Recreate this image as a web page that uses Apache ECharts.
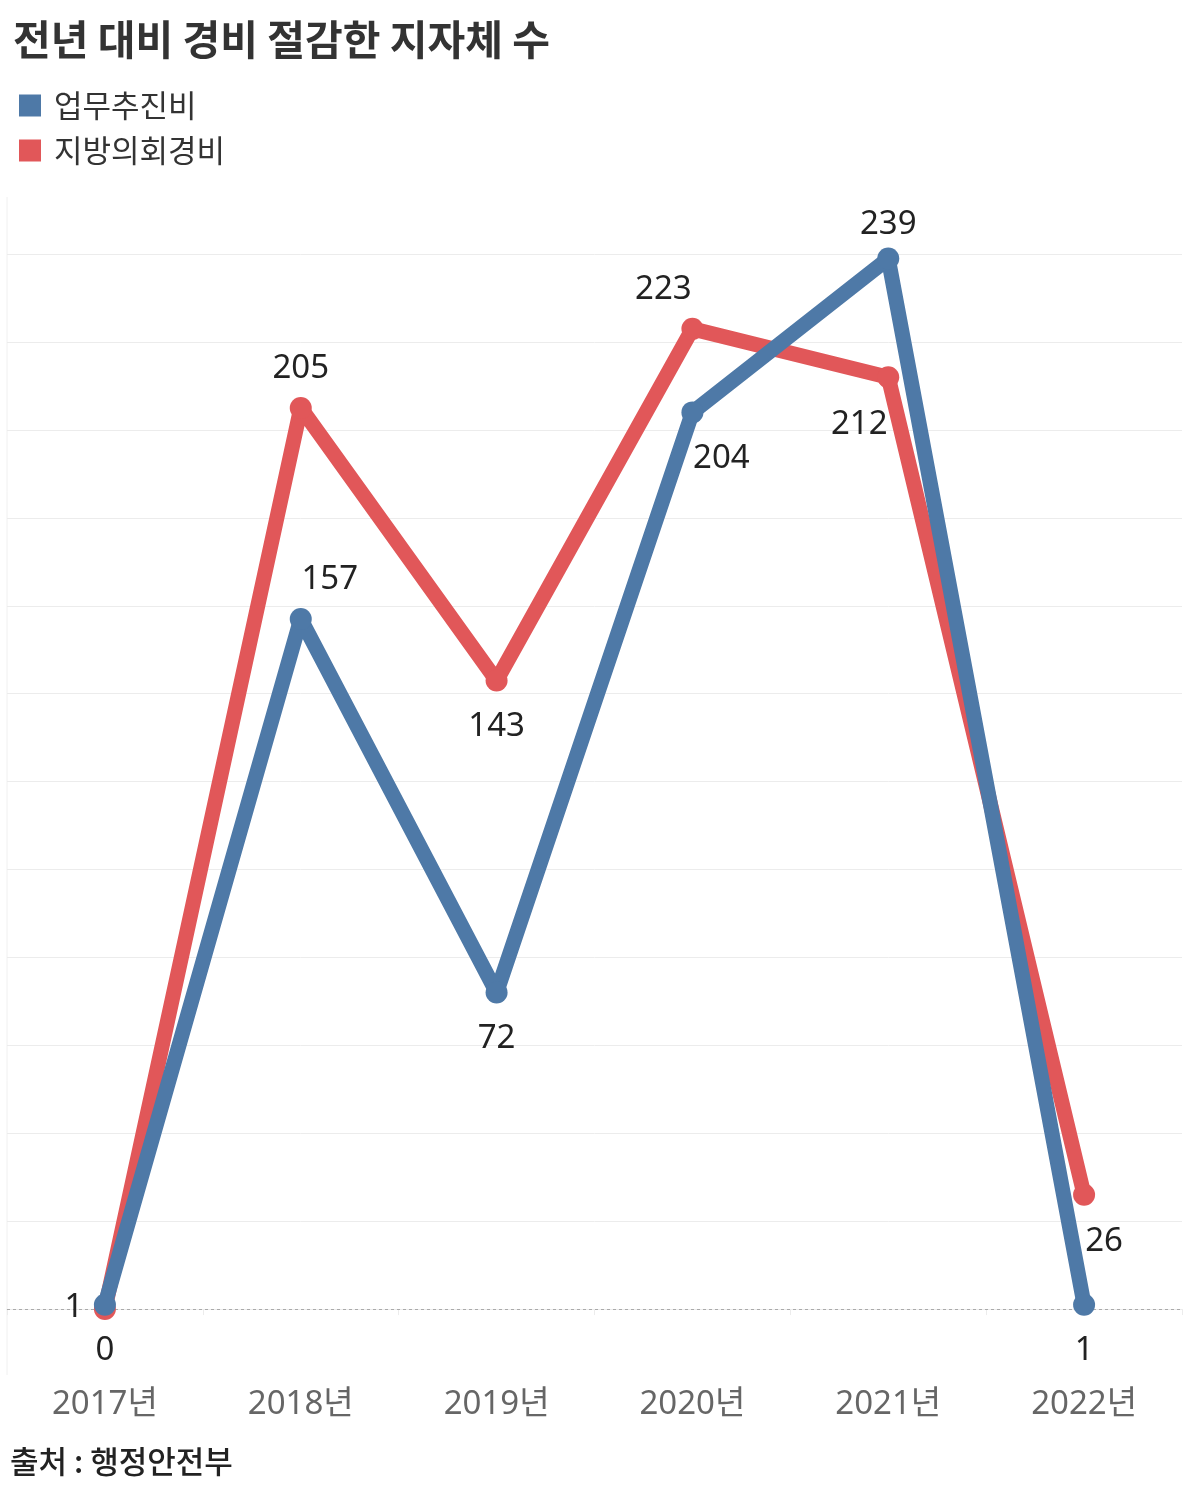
<!DOCTYPE html>
<html><head><meta charset="utf-8">
<script src="https://cdn.jsdelivr.net/npm/echarts@6/dist/echarts.min.js"></script>
<style>html,body{margin:0;padding:0;background:#fff}#c{width:1200px;height:1495px}</style>
</head><body><div id="c"></div>
<script>
const categories = ['2017년','2018년','2019년','2020년','2021년','2022년'];
const bizExpense = [1, 157, 72, 204, 239, 1];        // 업무추진비
const councilExpense = [0, 205, 143, 223, 212, 26];  // 지방의회경비
const gridValues = [20,40,60,80,100,120,140,160,180,200,220,240];
const title = '전년 대비 경비 절감한 지자체 수';
const source = '출처 : 행정안전부';
const seriesNames = ['업무추진비','지방의회경비'];

// label placement styles (offset from point)
const blueOff = [[-31,3],[29,-39],[0,46],[29,46],[0,-34],[0,46]];
const redOff  = [[0,42],[0,-39],[0,46],[-29,-39],[-29,47],[20,47]];

const FONT = '"Noto Sans CJK KR", "Noto Sans", sans-serif';
const NUMFONT = '"Noto Sans", "Noto Sans CJK KR", sans-serif';
const BLUE = '#4e79a7', RED = '#e15759';

function mk(vals, offs){
  return vals.map((v,i)=>({value:v, label:{offset:offs[i]}}));
}
const chart = echarts.init(document.getElementById('c'), null, {renderer:'canvas'});
chart.setOption({
  backgroundColor:'#fff',
  animation:false,
  title:{text:title, left:8, top:14, textStyle:{fontFamily:FONT, fontSize:41, fontWeight:'bold', color:'#333'}},
  legend:{orient:'vertical', left:14, top:85, itemWidth:22, itemHeight:22, itemGap:14,
    icon:'rect', textStyle:{fontFamily:FONT, fontSize:31, color:'#333', padding:[0,0,0,8]},
    data:seriesNames},
  graphic:[{type:'text', left:10, top:1446, style:{text:source, fontFamily:FONT, fontSize:31, fontWeight:500, fill:'#222'}},
    {type:'line', shape:{x1:7,y1:197,x2:7,y2:1375}, style:{stroke:'#f0f0f0', lineWidth:1}}],
  grid:{left:7, right:18, top:197, bottom:120},
  xAxis:{type:'category', data:categories, boundaryGap:true,
    axisLine:{lineStyle:{color:'#ececec', width:1}},
    axisTick:{show:true, length:6, lineStyle:{color:'#ececec'}},
    axisLabel:{fontFamily:NUMFONT, fontSize:33, color:'#666', margin:13}},
  yAxis:{type:'value', min:-15, max:253, show:true,
    axisLine:{show:false}, axisTick:{show:false}, axisLabel:{show:false}, splitLine:{show:false}},
  series:[
    {name:seriesNames[1], type:'line', data:mk(councilExpense, redOff), z:2,
     color:RED, lineStyle:{width:15, color:RED}, symbol:'circle', symbolSize:22,
     itemStyle:{color:RED},
     label:{show:true, position:'inside', fontFamily:NUMFONT, fontSize:33, color:'#222'},
     markLine:{silent:true, symbol:'none', label:{show:false}, z:1,
       data: gridValues.map(v=>({yAxis:v, lineStyle:{color:'#ececec', width:1, type:'solid'}}))
         .concat([{yAxis:0, lineStyle:{color:'#aaa', width:1, type:[3,3]}}])}},
    {name:seriesNames[0], type:'line', data:mk(bizExpense, blueOff), z:3,
     color:BLUE, lineStyle:{width:15, color:BLUE}, symbol:'circle', symbolSize:22,
     itemStyle:{color:BLUE},
     label:{show:true, position:'inside', fontFamily:NUMFONT, fontSize:33, color:'#222'}}
  ]
});
</script></body></html>
